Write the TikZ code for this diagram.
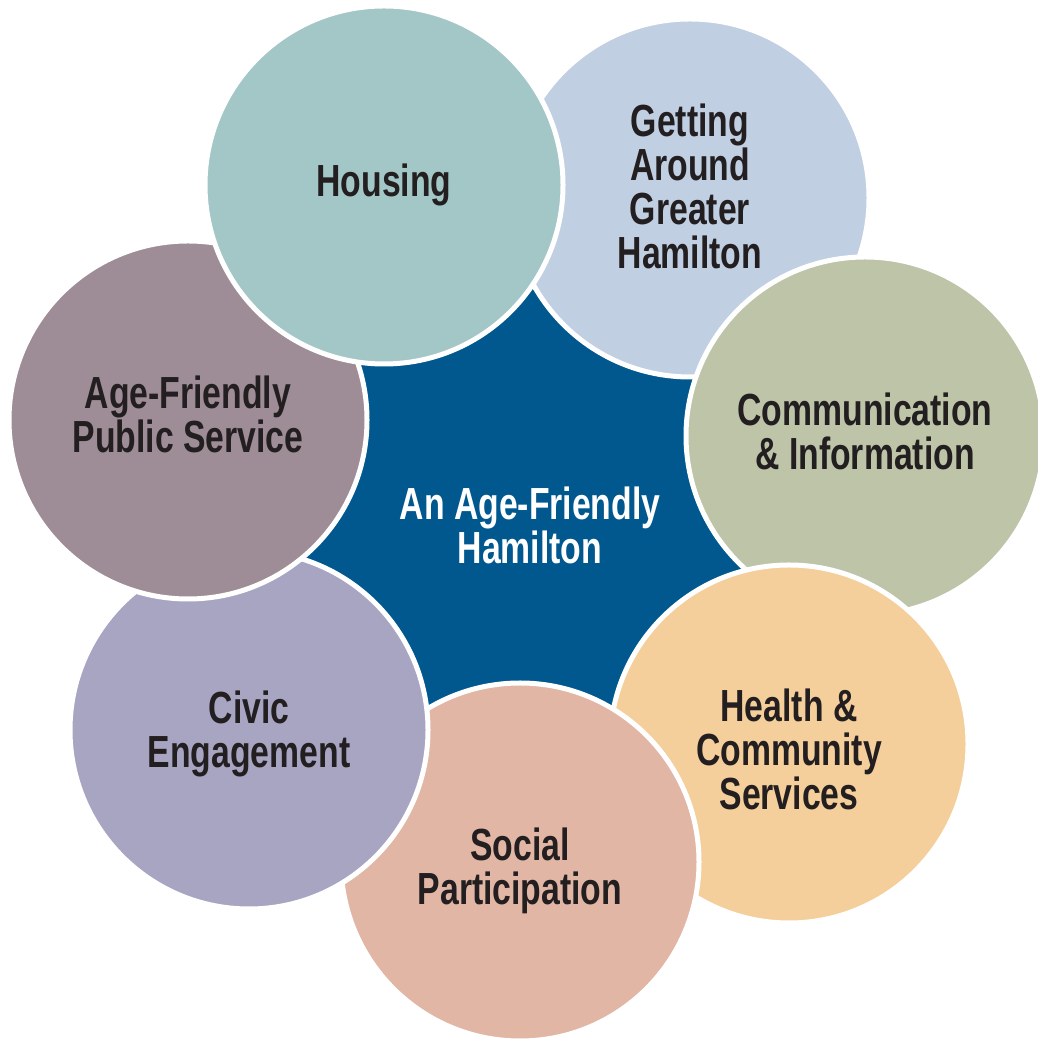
\documentclass[tikz,border=0pt]{standalone}
\usepackage{fontspec}
\setmainfont{Liberation Sans}[FakeStretch=0.75]
\definecolor{hubblue}{HTML}{00588F}
\definecolor{ink}{HTML}{231F20}
\definecolor{housecol}{HTML}{A3C7C6}
\definecolor{movecol}{HTML}{C1CFE2}
\definecolor{commcol}{HTML}{BDC4A8}
\definecolor{healthcol}{HTML}{F4CF9B}
\definecolor{socialcol}{HTML}{E1B6A5}
\definecolor{civiccol}{HTML}{A8A5C3}
\definecolor{publiccol}{HTML}{9E8D96}

\begin{document}
\begin{tikzpicture}[x=1pt, y=1pt, every node/.style={font=\fontsize{45}{44}\selectfont\bfseries, align=center, text=ink}, bubble/.style={circle, draw=white, line width=5pt, minimum size=358pt, inner sep=0pt}]
\useasboundingbox (0,0) rectangle (1037,1040);
\node[circle, fill=hubblue, minimum size=600pt, text=white] (hub) at (530,515) {An Age-Friendly\\Hamilton};
% drawn back to front
\node[bubble, fill=movecol] (move) at (690,842) {};
\node (moveText) at ([yshift=12pt]move.center) {Getting\\Around\\Greater\\Hamilton};
\node[bubble, fill=commcol] (comm) at (865,604) {};
\node (commText) at ([yshift=5pt]comm.center) {Communication\\\& Information};
\node[bubble, fill=healthcol] (health) at (789,296) {};
\node (healthText) at ([yshift=-5pt]health.center) {Health \&\\Community\\Services};
\node[bubble, fill=socialcol] (social) at (520,178) {};
\node (socialText) at ([yshift=-9pt]social.center) {Social\\Participation};
\node[bubble, fill=civiccol] (civic) at (249,310) {};
\node (civicText) at ([yshift=-4pt]civic.center) {Civic\\Engagement};
\node[bubble, fill=publiccol] (public) at (188,620) {};
\node (publicText) at ([yshift=6pt]public.center) {Age-Friendly\\Public Service};
\node[bubble, fill=housecol] (house) at (384,855) {Housing};
\end{tikzpicture}
\end{document}
